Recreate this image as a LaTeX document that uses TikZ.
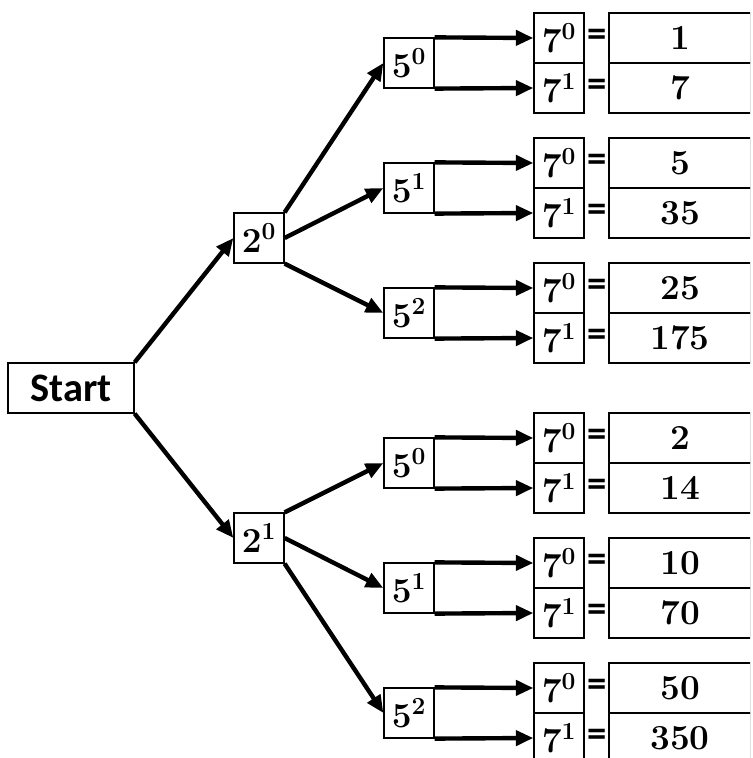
\documentclass[tikz,border=0pt]{standalone}
\usepackage{fix-cm}
\usepackage{fontspec}
\newfontfamily\startfont{Carlito}
\usetikzlibrary{positioning,arrows.meta}

\begin{document}
\begin{tikzpicture}[node distance =1cm and 3cm ,on grid ,
link/.style ={-{Triangle[length=10pt,width=8.5pt]} ,line width =2.5pt},
box/.style ={ rectangle ,draw ,line width =0.7pt ,minimum width =1cm ,
minimum height =1cm ,inner sep =0pt ,font=\fontsize{20}{22}\selectfont\boldmath},
valbox/.style ={ box ,minimum width =2.84cm ,font=\fontsize{20}{22}\selectfont\bfseries},
eq/.style ={ inner sep =0pt ,font=\startfont\fontsize{22}{24}\selectfont\bfseries}]
\useasboundingbox (-1.42,-7.4) rectangle (13.62,7.76);
\clip (-1.42,-7.4) rectangle (13.58,7.76);
\node[box ,minimum width =2.52cm ,font=\startfont\fontsize{23}{26}\selectfont\bfseries] (start) {Start};
\node[box] (two0) [above right = 3cm and 3.76cm of start] {$2^0$};
\node[box] (two1) [below right = 3cm and 3.76cm of start] {$2^1$};
\draw[link] (start.north east) -- (two0.west);
\draw[link] (start.south east) -- (two1.west);
\node[box] (f00) [above right = 3.5cm and 3cm of two0] {$5^0$};
\node[box] (f01) [above right = 1cm and 3cm of two0] {$5^1$};
\node[box] (f02) [below right = 1.5cm and 3cm of two0] {$5^2$};
\node[box] (f10) [above right = 1.5cm and 3cm of two1] {$5^0$};
\node[box] (f11) [below right = 1cm and 3cm of two1] {$5^1$};
\node[box] (f12) [below right = 3.5cm and 3cm of two1] {$5^2$};
\draw[link] (two0.north east) -- (f00.west);
\draw[link] (two0.east) -- (f01.west);
\draw[link] (two0.south east) -- (f02.west);
\draw[link] (two1.north east) -- (f10.west);
\draw[link] (two1.east) -- (f11.west);
\draw[link] (two1.south east) -- (f12.west);
% powers of 7 and the products
\foreach \f/\a/\b in {f00/1/7, f01/5/35, f02/25/175, f10/2/14, f11/10/70, f12/50/350} {
\node[box] (\f s0) [above right = 0.5cm and 3cm of \f] {$7^0$};
\node[box] (\f s1) [below right = 0.5cm and 3cm of \f] {$7^1$};
\node[eq] (\f e0) [right = 0.76cm of \f s0] {=};
\node[eq] (\f e1) [right = 0.76cm of \f s1] {=};
\node[valbox] (\f v0) [right = 2.42cm of \f s0] {\a};
\node[valbox] (\f v1) [right = 2.42cm of \f s1] {\b};
\draw[link] (\f.north east) -- (\f s0.west);
\draw[link] (\f.south east) -- (\f s1.west);
}
\end{tikzpicture}
\end{document}
